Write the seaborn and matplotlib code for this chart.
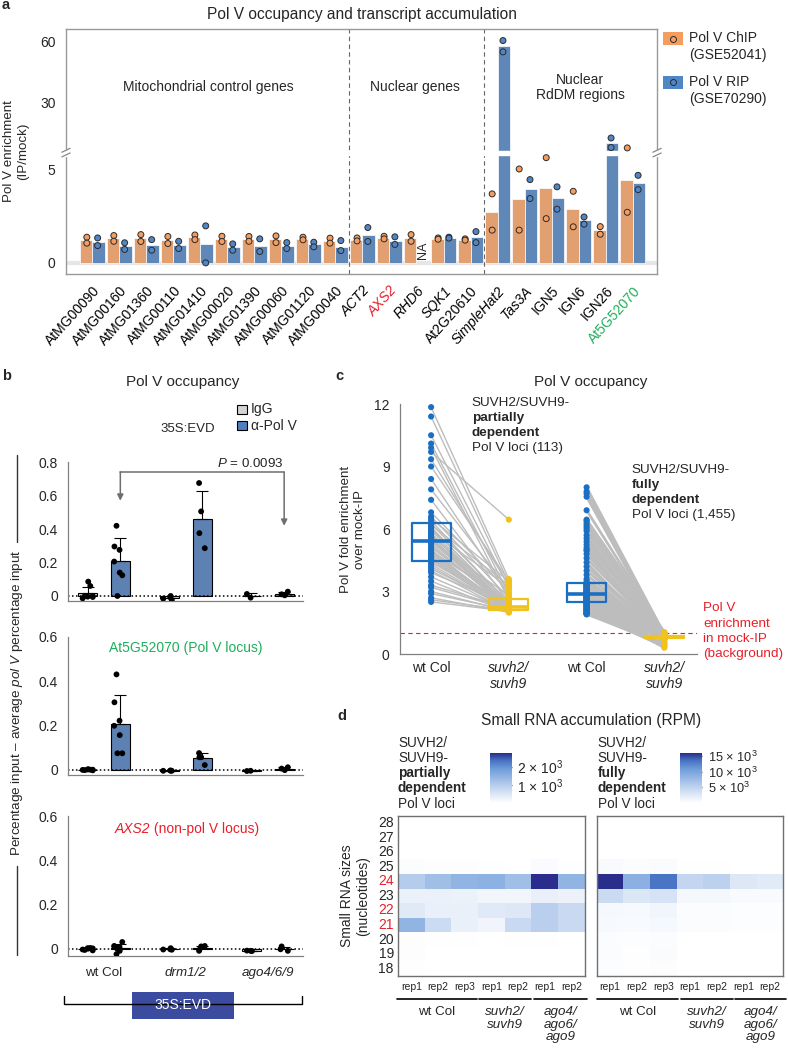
"""
Pol V occupancy / small RNA figure (panels a-d) rebuilt with seaborn.
"""

from __future__ import annotations

import matplotlib

matplotlib.use("Agg")

import matplotlib.pyplot as plt
import numpy as np
import pandas as pd
import seaborn as sns
from matplotlib.colors import LinearSegmentedColormap
from matplotlib.lines import Line2D
from matplotlib.patches import Rectangle
from matplotlib.transforms import blended_transform_factory

W, H = 788, 1053

ORANGE = "#F59D5E"
BLUE_A = "#5086C6"
BLUE_B = "#4E7FC0"
IGG_GRAY = "#D3D3D3"
BLUE_C = "#1B6FC2"
YELLOW_C = "#F1C21B"
LINE_GRAY = "#BDBDBD"
RED = "#E8202A"
GREEN = "#1DAF5B"
NAVY_BOX = "#3A4BA0"

# ---- panel a: Pol V ChIP / RIP enrichment --------------------------------
GENES = [
    "AtMG00090", "AtMG00160", "AtMG01360", "AtMG00110", "AtMG01410",
    "AtMG00020", "AtMG01390", "AtMG00060", "AtMG01120", "AtMG00040",
    "ACT2", "AXS2", "RHD6", "SQK1", "At2G20610",
    "SimpleHat2", "Tas3A", "IGN5", "IGN6", "IGN26", "At5G52070",
]
ITALIC_GENES = {"ACT2", "AXS2", "RHD6", "SQK1", "SimpleHat2", "Tas3A"}
GENE_COLORS = {"AXS2": RED, "At5G52070": GREEN}
NAN = float("nan")
CHIP_BARS = [1.22, 1.33, 1.33, 1.22, 1.38, 1.27, 1.27, 1.27, 1.27, 1.18, 1.25,
             1.34, 1.34, 1.31, 1.25, 2.74, 3.41, 4.03, 2.89, 1.76, 4.44]
RIP_BARS = [1.11, 0.90, 0.95, 0.95, 0.99, 0.86, 0.93, 0.93, 0.99, 0.86, 1.52,
            1.18, NAN, 1.34, 1.38, 58.0, 3.96, 3.48, 2.28, 10.2, 4.30]
CHIP_REP1 = [1.38, 1.47, 1.52, 1.42, 1.50, 1.43, 1.42, 1.45, 1.38, 1.33, 1.34,
             1.43, 1.52, 1.34, 1.29, 3.71, 5.05, 5.66, 3.85, 1.95, 7.7]
CHIP_REP2 = [1.06, 1.16, 1.15, 1.04, 1.25, 1.15, 1.16, 1.09, 1.24, 1.06, 1.18,
             1.29, 1.16, 1.27, 1.22, 1.76, 1.76, 2.38, 1.94, 1.54, 2.72]
RIP_REP1 = [1.34, 1.08, 1.25, 1.16, 1.99, 1.02, 1.29, 1.09, 1.11, 1.20, 1.90,
            1.40, NAN, 1.38, 1.68, 60.7, 4.48, 4.09, 2.47, 12.6, 4.71]
RIP_REP2 = [0.93, 0.72, 0.68, 0.77, 0.0, 0.68, 0.61, 0.77, 0.86, 0.66, 1.15,
            0.99, NAN, 1.33, 1.09, 55.1, 3.46, 2.89, 2.08, 7.9, 3.94]
BREAK_AT = 6.0
BREAK_SQUEEZE = 0.109

# ---- panel b: ChIP-qPCR, order: wt IgG, wt Pol V, drm IgG, drm Pol V, ago IgG, ago Pol V
B_GROUPS = ["wt Col", "drm1/2", "ago4/6/9"]
B_ANTIBODIES = ["IgG", "α-Pol V"]
OCC_SIMPLEHAT = [
    [0.086, 0.06, 0.0, -0.004, 0.0, -0.006, -0.014],
    [0.42, 0.296, 0.276, 0.206, 0.14, 0.124, 0.0],
    [-0.024, 0.0, -0.016, -0.008],
    [0.676, 0.506, 0.376, 0.286],
    [-0.01, 0.012],
    [0.004, 0.026, 0.01],
]
OCC_AT5G52070 = [
    [0.002, 0.0, -0.002, 0.001, -0.003, 0.0, -0.001],
    [0.43, 0.304, 0.221, 0.198, 0.156, 0.074, 0.074],
    [-0.005, -0.004, -0.005, -0.004],
    [0.075, 0.056, 0.056, 0.021],
    [-0.005, -0.006],
    [-0.002, 0.011, 0.005],
]
OCC_AXS2 = [
    [0.0, 0.003, -0.006, 0.002, -0.008, 0.001, -0.004],
    [-0.025, 0.01, 0.008, 0.012, -0.01, 0.03, -0.002],
    [-0.005, 0.002, -0.004, -0.003],
    [-0.01, 0.01, -0.005, 0.012],
    [-0.01, -0.009, -0.011],
    [-0.01, 0.01, -0.003],
]

# ---- panel c: paired Pol V fold enrichment ---------------------------------
PARTIAL_WT = [11.85, 11.4, 10.5, 10.1, 9.9, 9.7, 9.35, 9.0, 8.4, 7.9, 7.4, 6.8, 6.6, 6.5, 6.4,
              6.25, 6.2, 6.1, 6.05, 5.95, 5.9, 5.8, 5.75, 5.65, 5.6, 5.55, 5.5, 5.48, 5.46, 5.45,
              5.44, 5.4, 5.3, 5.2, 5.1, 5.0, 4.95, 4.9, 4.85, 4.8, 4.7, 4.65, 4.6, 4.55, 4.5,
              4.4, 4.3, 4.2, 4.1, 4.0, 3.9, 3.7, 3.5, 3.3, 3.2, 3.0, 2.9, 2.7, 2.6, 2.5]
PARTIAL_SUVH = [3.6, 3.4, 3.2, 2.9, 2.6, 6.45, 3.3, 3.5, 2.8, 3.1, 2.5, 3.0, 2.7, 3.5, 2.4,
                2.45, 3.3, 2.2, 2.35, 2.15, 3.2, 2.25, 2.1, 2.6, 2.2, 2.05, 2.3, 2.4, 2.2, 2.15,
                2.8, 2.25, 2.1, 2.2, 2.35, 2.05, 2.5, 2.15, 2.2, 2.1, 2.25, 2.0, 2.3, 2.2, 2.1,
                2.3, 2.15, 2.1, 2.2, 2.05, 2.35, 2.1, 2.0, 2.2, 2.15, 2.05, 2.1, 2.0, 2.1, 2.05]
FULL_WT = [8.0, 7.8, 7.7, 7.55, 6.9, 6.4, 6.2, 6.0, 5.7, 5.4, 5.1, 4.8, 4.4, 4.0, 3.6,
           6.45, 6.3, 6.1, 5.9, 5.55, 5.25, 5.0, 4.95, 4.6, 4.2, 3.8, 3.5,
           3.4, 3.35, 3.3, 3.25, 3.2, 3.15, 3.1, 3.05, 3.0, 2.98, 2.95, 2.93, 2.91, 2.9, 2.9,
           2.89, 2.87, 2.85, 2.82, 2.8, 2.77, 2.75, 2.72, 2.7, 2.67, 2.64, 2.6, 2.57, 2.54, 2.5,
           3.38, 3.32, 3.28, 3.22, 3.18, 3.12, 3.08, 3.02, 2.97, 2.94, 2.92, 2.9,
           2.88, 2.86, 2.84, 2.81, 2.78, 2.74, 2.71, 2.68, 2.63, 2.58, 2.55, 2.52,
           2.48, 2.45, 2.4, 2.35, 2.3, 2.25, 2.2, 2.15, 2.1, 2.05, 2.0, 1.97, 1.95, 1.92, 1.9,
           2.44, 2.42, 2.38, 2.32, 2.28, 2.22, 2.18, 2.12, 2.08, 2.02, 1.98, 1.93]
FULL_SUVH = [0.95, 0.9, 0.85, 0.88, 1.0, 1.05, 0.8, 0.92, 0.7, 0.98, 0.6, 0.85, 0.5, 0.9, 0.75,
             1.02, 1.0, 0.95, 0.9, 0.85, 0.92, 0.7, 0.88, 0.8, 0.86, 0.78, 0.83,
             0.82, 0.85, 0.9, 0.78, 0.8, 0.88, 0.76, 0.84, 0.82, 0.9, 0.8, 0.86, 0.78, 0.83, 0.81,
             0.79, 0.87, 0.77, 0.84, 0.8, 0.92, 0.75, 0.82, 0.85, 0.78, 0.4, 0.83, 0.8, 0.76, 0.88,
             0.82, 0.84, 0.8, 0.86, 0.78, 0.83, 0.81, 0.85, 0.79, 0.82, 0.87, 0.8,
             0.84, 0.78, 0.83, 0.81, 0.86, 0.79, 0.82, 0.8, 0.84, 0.77, 0.83, 0.81,
             0.8, 0.84, 0.3, 0.78, 0.86, 0.82, 0.76, 0.9, 0.8, 0.35, 0.84, 0.78, 0.82, 0.45, 0.8,
             0.85, 0.8, 0.78, 0.82, 0.76, 0.84, 0.8, 0.5, 0.79, 0.83, 0.77, 0.81]
C_CONDITIONS = ["wt_partial", "suvh_partial", "wt_full", "suvh_full"]
C_TICKLABELS = ["wt Col", "suvh2/\nsuvh9", "wt Col", "suvh2/\nsuvh9"]

# ---- panel d: small RNA RPM heatmaps (rows 28 -> 18 nt) --------------------
RNA_SIZES = [28, 27, 26, 25, 24, 23, 22, 21, 20, 19, 18]
RED_SIZES = {24, 22, 21}
REP_LABELS = ["rep1", "rep2", "rep3", "rep1", "rep2", "rep1", "rep2"]
RPM_PARTIAL = [
    [0, 0, 0, 0, 0, 0, 0],
    [0, 0, 0, 0, 0, 0, 0],
    [0, 0, 0, 0, 0, 0, 0],
    [60, 40, 40, 30, 10, 80, 30],
    [1000, 1250, 1450, 1500, 1250, 2750, 1450],
    [280, 270, 260, 180, 180, 300, 250],
    [420, 300, 300, 430, 470, 950, 750],
    [1450, 700, 300, 200, 750, 950, 750],
    [40, 20, 20, 10, 20, 20, 10],
    [40, 10, 10, 0, 0, 0, 0],
    [20, 10, 10, 0, 0, 0, 0],
]
RPM_FULL = [
    [0, 0, 0, 0, 0, 0, 0],
    [0, 0, 0, 0, 0, 0, 0],
    [0, 0, 0, 0, 0, 0, 0],
    [600, 400, 500, 100, 100, 50, 50],
    [16000, 8800, 13400, 4800, 5300, 2700, 2400],
    [4200, 2800, 3300, 900, 900, 600, 600],
    [800, 700, 1100, 400, 400, 300, 300],
    [700, 600, 800, 400, 400, 300, 300],
    [400, 300, 400, 50, 50, 30, 30],
    [400, 100, 500, 0, 0, 0, 0],
    [300, 100, 200, 0, 0, 0, 0],
]
RPM_CMAP = LinearSegmentedColormap.from_list(
    "rpm",
    [(0, "#ffffff"), (0.35, "#b8ceed"), (0.68, "#6f9dda"), (0.85, "#4872c2"), (1, "#2a2d8c")],
)


def rect(left, top, right, bottom):
    return [left / W, 1 - bottom / H, (right - left) / W, (bottom - top) / H]


def fx(x):
    return x / W


def fy(y):
    return 1 - y / H


def brk_fwd(y):
    y = np.asarray(y, dtype=float)
    return np.where(y <= BREAK_AT, y, BREAK_AT + (y - BREAK_AT) * BREAK_SQUEEZE)


def brk_inv(u):
    u = np.asarray(u, dtype=float)
    return np.where(u <= BREAK_AT, u, BREAK_AT + (u - BREAK_AT) / BREAK_SQUEEZE)


def stacked_text(fig, x, y0, step, lines, **kw):
    for i, (txt, weight) in enumerate(lines):
        fig.text(fx(x), fy(y0 + i * step), txt, fontweight=weight, ha="left", va="center", **kw)


def draw_panel_a(fig):
    ax = fig.add_axes(rect(66, 29, 657, 274))
    n = len(GENES)
    bars = pd.DataFrame({
        "gene": GENES * 2,
        "source": ["ChIP"] * n + ["RIP"] * n,
        "value": CHIP_BARS + RIP_BARS,
    })
    reps = pd.DataFrame({
        "gene": GENES * 4,
        "source": ["ChIP"] * (2 * n) + ["RIP"] * (2 * n),
        "value": CHIP_REP1 + CHIP_REP2 + RIP_REP1 + RIP_REP2,
    })
    sns.barplot(data=bars, x="gene", y="value", hue="source", order=GENES,
                hue_order=["ChIP", "RIP"], palette=[ORANGE, BLUE_A], width=0.93,
                errorbar=None, edgecolor="white", linewidth=0.5, legend=False, ax=ax)
    sns.stripplot(data=reps, x="gene", y="value", hue="source", order=GENES,
                  hue_order=["ChIP", "RIP"], palette=[ORANGE, BLUE_A], dodge=True,
                  jitter=False, size=4.3, linewidth=0.7, edgecolor="#2b2b2b",
                  legend=False, ax=ax, zorder=4)
    ax.set_yscale("function", functions=(brk_fwd, brk_inv))
    ax.set_ylim(-0.6, 66.4)
    ax.set_xlim(-0.97, 20.9)
    ax.axhline(0, color="#e6e6e6", lw=3, zorder=0.5)
    for xv in (9.5, 14.5):
        ax.axvline(xv, color="#666666", ls=(0, (4, 3)), lw=0.8, zorder=0.8)

    # axis break: white gap through the bars + slashes on both spines
    ax.axhspan(5.8, 6.25, color="white", zorder=2.2)
    for xs in (0, 1):
        ax.plot([xs, xs], [0.486, 0.503], transform=ax.transAxes, color="white",
                lw=2.5, clip_on=False, zorder=5)
        for yb in (0.478, 0.497):
            ax.plot([xs - 0.007, xs + 0.007], [yb, yb + 0.016], transform=ax.transAxes,
                    color="#888888", lw=0.9, clip_on=False, zorder=6)

    ax.text(4.28, 38, "Mitochondrial control genes", ha="center", va="center", fontsize=10)
    ax.text(11.96, 38, "Nuclear genes", ha="center", va="center", fontsize=10)
    ax.text(18.05, 37.5, "Nuclear\nRdDM regions", ha="center", va="center", fontsize=10,
            linespacing=1.05)
    ax.text(12.23, 0.65, "NA", rotation=90, ha="center", va="center", fontsize=9)

    ax.set_yticks([0, 5, 30, 60], labels=["0", "5", "30", "60"])
    ax.set_xticks(range(n))
    ax.set_xticklabels(GENES, rotation=48, ha="right", rotation_mode="anchor")
    for lab in ax.get_xticklabels():
        name = lab.get_text()
        lab.set_color(GENE_COLORS.get(name, "black"))
        if name in ITALIC_GENES:
            lab.set_fontstyle("italic")
    ax.tick_params(axis="both", labelsize=10, length=4, color="#888888", width=0.9)
    ax.tick_params(axis="x", pad=3)
    for sp in ax.spines.values():
        sp.set_visible(True)
        sp.set_color("#999999")
        sp.set_linewidth(1)
    ax.set_xlabel("")
    ax.set_ylabel("Pol V enrichment\n(IP/mock)", fontsize=9.6, labelpad=8)

    fig.text(fx(362), fy(14), "Pol V occupancy and transcript accumulation",
             ha="center", va="center", fontsize=11.2)
    # legend
    for (yc, color, l1, l2) in [(38.5, ORANGE, "Pol V ChIP", "(GSE52041)"),
                                (82.3, BLUE_A, "Pol V RIP", "(GSE70290)")]:
        fig.add_artist(Rectangle((fx(663), fy(yc + 6.5)), 20 / W, 13 / H,
                                 transform=fig.transFigure, facecolor=color, edgecolor="none"))
        fig.add_artist(Line2D([fx(673)], [fy(yc)], marker="o", ms=4.3, mfc=color,
                              mec="#2b2b2b", mew=0.7, transform=fig.transFigure))
        fig.text(fx(689), fy(yc), l1, ha="left", va="center", fontsize=10)
        fig.text(fx(689), fy(yc + 16.7), l2, ha="left", va="center", fontsize=10)


def occupancy_axes(fig, box, values, ymin, ymax, yticks, ylabels, show_x):
    ax = fig.add_axes(rect(*box))
    rows = []
    keys = [(g, a) for g in B_GROUPS for a in B_ANTIBODIES]
    for (group, antibody), vals in zip(keys, values):
        rows += [{"group": group, "antibody": antibody, "value": v} for v in vals]
    df = pd.DataFrame(rows)
    sns.barplot(data=df, x="group", y="value", hue="antibody", order=B_GROUPS,
                hue_order=B_ANTIBODIES, palette=[IGG_GRAY, BLUE_B], width=0.8, gap=0.42,
                errorbar=None, edgecolor="black", linewidth=0.8, legend=False, ax=ax)
    for (group, antibody), vals in zip(keys, values):
        xpos = B_GROUPS.index(group) + (-0.2 if antibody == "IgG" else 0.2)
        vals = np.asarray(vals)
        ax.errorbar(xpos, vals.mean(), yerr=[[0], [vals.std(ddof=1)]], color="black",
                    lw=0.8, capsize=4, capthick=0.8, zorder=2)
    np.random.seed(3)
    sns.stripplot(data=df, x="group", y="value", hue="antibody", order=B_GROUPS,
                  hue_order=B_ANTIBODIES, palette=["black", "black"], dodge=True,
                  jitter=0.16, size=4.2, legend=False, ax=ax, zorder=3)
    ax.axhline(0, color="black", ls=(0, (1, 1.6)), lw=1.1, zorder=2.5)
    ax.set_xlim(-0.435, 2.43)
    ax.set_ylim(ymin, ymax)
    ax.set_yticks(yticks, labels=ylabels)
    for side in ("top", "right"):
        ax.spines[side].set_visible(False)
    for side in ("left", "bottom"):
        ax.spines[side].set_color("#808080")
        ax.spines[side].set_linewidth(0.9)
    ax.tick_params(axis="y", labelsize=10, length=4, color="#808080", width=0.9)
    ax.tick_params(axis="x", length=0, labelsize=9.6, pad=8)
    ax.set_xlabel("")
    ax.set_ylabel("")
    if show_x:
        for lab in ax.get_xticklabels():
            if lab.get_text() != "wt Col":
                lab.set_fontstyle("italic")
    else:
        ax.set_xticklabels([])
    return ax


def draw_panel_b(fig):
    fig.text(fx(183), fy(382), "Pol V occupancy", ha="center", va="center", fontsize=11)
    for yc, color, label in [(409, IGG_GRAY, "IgG"), (425.5, BLUE_B, "α-Pol V")]:
        fig.add_artist(Rectangle((fx(237), fy(yc + 4.5)), 10 / W, 9 / H,
                                 transform=fig.transFigure, facecolor=color,
                                 edgecolor="black", lw=0.8))
        fig.text(fx(251), fy(yc), label, ha="left", va="center", fontsize=10)
    fig.text(fx(188), fy(428.7), "35S:EVD", ha="center", va="center", fontsize=9.5)

    ticks_top = [0, 0.2, 0.4, 0.6, 0.8]
    ticks_low = [0, 0.2, 0.4, 0.6]
    ax_top = occupancy_axes(fig, (68.3, 462.3, 303, 601), OCC_SIMPLEHAT, -0.03, 0.8,
                            ticks_top, ["0", "0.2", "0.4", "0.6", "0.8"], False)
    ax_mid = occupancy_axes(fig, (68.3, 636.7, 303, 775), OCC_AT5G52070, -0.024, 0.6,
                            ticks_low, ["0", "0.2", "0.4", "0.6"], False)
    ax_low = occupancy_axes(fig, (68.3, 816, 303, 955.7), OCC_AXS2, -0.032, 0.6,
                            ticks_low, ["0", "0.2", "0.4", "0.6"], True)

    # significance bracket on the top panel
    x1, x2, ytop = 0.2, 2.2, 0.742
    ax_top.plot([x1, x2], [ytop, ytop], color="#6e6e6e", lw=1.1, clip_on=False)
    for xa, tip in ((x1, 0.57), (x2, 0.42)):
        ax_top.annotate("", xy=(xa, tip), xytext=(xa, ytop),
                        arrowprops=dict(arrowstyle="-|>", color="#6e6e6e", lw=1.1,
                                        mutation_scale=9, shrinkA=0, shrinkB=0))
    ax_top.text(2.19, 0.79, r"$\mathit{P}$ = 0.0093", ha="right", va="center",
                fontsize=9.6, clip_on=False)
    ax_mid.text(1.0, 0.55, "At5G52070 (Pol V locus)", color=GREEN, ha="center",
                va="center", fontsize=10)
    gene = fig.text(fx(114.5), fy(829), "AXS2", color=RED, fontstyle="italic",
                    ha="left", va="center", fontsize=10)
    ax_low.annotate(" (non-pol V locus)", xy=(1, 0.5), xycoords=gene, ha="left",
                    va="center", color=RED, fontsize=10)

    fig.text(fx(17), fy(703), r"Percentage input – average $\mathit{pol\ V}$ percentage input",
             rotation=90, ha="center", va="center", fontsize=9.7)
    for y0, y1 in ((455, 542), (866, 955)):
        fig.add_artist(Line2D([fx(17), fx(17)], [fy(y0), fy(y1)], color="#333333", lw=1,
                              transform=fig.transFigure))
    fig.add_artist(Line2D([fx(64), fx(64), fx(302), fx(302)], [fy(996), fy(1004), fy(1004), fy(996)],
                          color="black", lw=1, transform=fig.transFigure))
    fig.add_artist(Rectangle((fx(131.7), fy(1019)), 102.6 / W, 27.3 / H,
                             transform=fig.transFigure, facecolor=NAVY_BOX, edgecolor="none"))
    fig.text(fx(183), fy(1005.3), "35S:EVD", color="white", ha="center", va="center",
             fontsize=10)


def draw_panel_c(fig):
    ax = fig.add_axes(rect(400, 404, 697, 654))
    groups = [PARTIAL_WT, PARTIAL_SUVH, FULL_WT, FULL_SUVH]
    df = pd.DataFrame({
        "cond": [c for c, vals in zip(C_CONDITIONS, groups) for _ in vals],
        "value": [v for vals in groups for v in vals],
    })
    palette = dict(zip(C_CONDITIONS, [BLUE_C, YELLOW_C, BLUE_C, YELLOW_C]))
    for x0, wt, sv, lw in ((0, PARTIAL_WT, PARTIAL_SUVH, 1.0), (2, FULL_WT, FULL_SUVH, 2.0)):
        for a, b in zip(wt, sv):
            ax.plot([x0, x0 + 1], [a, b], color=LINE_GRAY, lw=lw, zorder=1,
                    solid_capstyle="butt")
    sns.boxplot(data=df, x="cond", y="value", hue="cond", order=C_CONDITIONS,
                palette=palette, fill=False, whis=0, showfliers=False, showcaps=False,
                width=0.5, linewidth=1.6, medianprops={"linewidth": 2.6},
                legend=False, ax=ax)
    sns.stripplot(data=df, x="cond", y="value", hue="cond", order=C_CONDITIONS,
                  palette=palette, jitter=False, size=4.4, legend=False, ax=ax, zorder=3)
    ax.axhline(1.0, color=RED, ls=(0, (4, 3)), lw=0.8, zorder=0.9)
    ax.set_xlim(-0.4, 3.42)
    ax.set_ylim(0, 12)
    ax.set_yticks([0, 3, 6, 9, 12])
    ax.set_xticks(range(4))
    ax.set_xticklabels(C_TICKLABELS)
    for i, lab in enumerate(ax.get_xticklabels()):
        if i % 2 == 1:
            lab.set_fontstyle("italic")
    for side in ("top", "right"):
        ax.spines[side].set_visible(False)
    for side in ("left", "bottom"):
        ax.spines[side].set_color("#808080")
        ax.spines[side].set_linewidth(0.9)
    ax.tick_params(axis="y", labelsize=10, length=4, color="#808080", width=0.9)
    ax.tick_params(axis="x", labelsize=10, length=0, pad=5)
    ax.set_xlabel("")
    ax.set_ylabel("Pol V fold enrichment\nover mock-IP", fontsize=9.6, labelpad=6)

    fig.text(fx(591), fy(382), "Pol V occupancy", ha="center", va="center", fontsize=11)
    stacked_text(fig, 471.7, 403.3, 15, [("SUVH2/SUVH9-", "normal"), ("partially", "bold"),
                                         ("dependent", "bold"), ("Pol V loci (113)", "normal")],
                 fontsize=9.7)
    stacked_text(fig, 631.7, 470, 15, [("SUVH2/SUVH9-", "normal"), ("fully", "bold"),
                                       ("dependent", "bold"), ("Pol V loci (1,455)", "normal")],
                 fontsize=9.7)
    stacked_text(fig, 703, 608.3, 15.4, [("Pol V", "normal"), ("enrichment", "normal"),
                                         ("in mock-IP", "normal"), ("(background)", "normal")],
                 fontsize=9.7, color=RED)


def draw_heatmap(fig, box, cbar_box, matrix, vmax, cticks, clabels, show_y, groups, csize):
    ax = fig.add_axes(rect(*box))
    cax = fig.add_axes(rect(*cbar_box))
    frame = pd.DataFrame(matrix, index=RNA_SIZES)
    sns.heatmap(frame, ax=ax, cbar_ax=cax, cmap=RPM_CMAP, vmin=0, vmax=vmax,
                xticklabels=REP_LABELS, yticklabels=RNA_SIZES if show_y else False)
    for sp in ax.spines.values():
        sp.set_visible(True)
        sp.set_color("#707070")
        sp.set_linewidth(1)
    ax.tick_params(axis="x", length=0, labelsize=7.5, pad=4, rotation=0)
    ax.tick_params(axis="y", length=0, labelsize=10, pad=3, rotation=0)
    if show_y:
        for lab in ax.get_yticklabels():
            if int(lab.get_text()) in RED_SIZES:
                lab.set_color(RED)
    cbar = ax.collections[0].colorbar
    cbar.outline.set_visible(False)
    cbar.set_ticks(cticks, labels=clabels)
    cax.tick_params(direction="in", length=4, width=1, color="#555555", labelsize=csize, pad=4)

    trans = blended_transform_factory(ax.transData, ax.transAxes)
    for label, x0, x1, italic in groups:
        ax.plot([x0, x1], [-0.145, -0.145], transform=trans, color="black", lw=1.2,
                clip_on=False)
        ax.text((x0 + x1) / 2, -0.185, label, transform=trans, ha="center", va="top",
                fontsize=9.6, fontstyle="italic" if italic else "normal", linespacing=1.1)
    return ax


def draw_panel_d(fig):
    fig.text(fx(591), fy(720), "Small RNA accumulation (RPM)", ha="center", va="center",
             fontsize=11.2)
    groups_left = [("wt Col", -0.05, 2.97, False), ("suvh2/\nsuvh9", 3.05, 4.97, True),
                   ("ago4/\nago6/\nago9", 5.1, 7.1, True)]
    groups_right = [("wt Col", 0.0, 3.05, False), ("suvh2/\nsuvh9", 3.15, 5.1, True),
                    ("ago4/\nago6/\nago9", 5.2, 7.1, True)]
    ax = draw_heatmap(fig, (398, 815.7, 584.7, 976), (490, 753, 511.7, 803), RPM_PARTIAL,
                      2750, [1000, 2000], [r"1 × 10$^3$", r"2 × 10$^3$"], True, groups_left,
                      10)
    draw_heatmap(fig, (596.7, 815.7, 783.3, 976), (680, 753, 702, 803), RPM_FULL, 16000,
                 [5000, 10000, 15000], [r"5 × 10$^3$", r"10 × 10$^3$", r"15 × 10$^3$"],
                 False, groups_right, 9.2)
    ax.set_ylabel("Small RNA sizes\n(nucleotides)", fontsize=10, labelpad=6)
    for x, word in ((398, "partially"), (597.7, "fully")):
        stacked_text(fig, x, 742.7, 15.2, [("SUVH2/", "normal"), ("SUVH9-", "normal"),
                                           (word, "bold"), ("dependent", "bold"),
                                           ("Pol V loci", "normal")], fontsize=9.8)


def main() -> None:
    sns.set_style("white")
    plt.rcParams["font.family"] = ["Liberation Sans", "DejaVu Sans"]
    plt.rcParams["mathtext.fontset"] = "custom"
    plt.rcParams["mathtext.rm"] = "Liberation Sans"
    plt.rcParams["mathtext.it"] = "Liberation Sans:italic"
    plt.rcParams["mathtext.bf"] = "Liberation Sans:bold"

    fig = plt.figure(figsize=(W / 100, H / 100), dpi=100)
    draw_panel_a(fig)
    draw_panel_b(fig)
    draw_panel_c(fig)
    draw_panel_d(fig)
    for x, y, letter in ((2, 5, "a"), (2, 376, "b"), (335, 376, "c"), (337, 716, "d")):
        fig.text(fx(x), fy(y), letter, fontweight="bold", fontsize=10.5, ha="left", va="center")
    fig.savefig("out.png", dpi=100)
    plt.close(fig)


if __name__ == "__main__":
    main()
